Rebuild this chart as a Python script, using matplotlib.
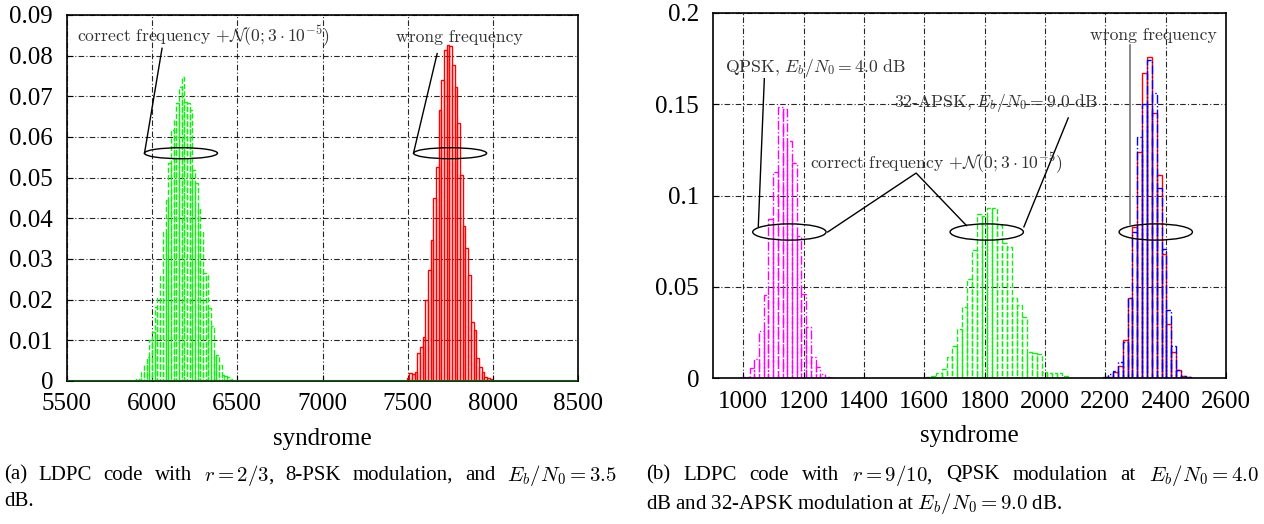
import numpy as np
import matplotlib
matplotlib.use("Agg")
import matplotlib.pyplot as plt
from matplotlib.patches import Ellipse

plt.rcParams['font.family'] = ['Liberation Serif', 'DejaVu Serif']
plt.rcParams['mathtext.fontset'] = 'cm'

# ---- (a) 8-PSK, r = 2/3 ----
a_green_start, a_green_width = 5890, 15.7
a_green = [0.0002, 0.0004, 0.0007, 0.0023, 0.0039, 0.0060, 0.0101, 0.0121, 0.0183, 0.0203,
           0.0258, 0.0367, 0.0445, 0.0535, 0.0617, 0.0642, 0.0683, 0.0724, 0.0748, 0.0687,
           0.0683, 0.0666, 0.0519, 0.0486, 0.0425, 0.0367, 0.0265, 0.0261, 0.0179, 0.0134,
           0.0064, 0.0064, 0.0039, 0.0015, 0.0012, 0.0010, 0.0004]
a_red_start, a_red_width = 7494, 15.7
a_red = [0.0007, 0.0019, 0.0017, 0.0023, 0.0068, 0.0084, 0.0109, 0.0199, 0.0273, 0.0347,
         0.0449, 0.0527, 0.0666, 0.0740, 0.0814, 0.0826, 0.0824, 0.0777, 0.0724, 0.0635,
         0.0507, 0.0382, 0.0327, 0.0261, 0.0146, 0.0125, 0.0056, 0.0035, 0.0023, 0.0009,
         0.0007, 0.0004]
a_xticks = [5500, 6000, 6500, 7000, 7500, 8000, 8500]
a_yticks = [0, 0.01, 0.02, 0.03, 0.04, 0.05, 0.06, 0.07, 0.08, 0.09]
a_ylabels = ['0', '0.01', '0.02', '0.03', '0.04', '0.05', '0.06', '0.07', '0.08', '0.09']

# ---- (b) QPSK / 32-APSK, r = 9/10 ----
b_mag_start, b_mag_width = 990, 15.6
b_magenta = [0.0004, 0.0007, 0.0053, 0.0102, 0.0258, 0.0455, 0.087, 0.1127, 0.1483, 0.1474,
             0.130, 0.1176, 0.078, 0.0458, 0.028, 0.0117, 0.0062, 0.0022, 0.0007, 0.0002]
b_grn_start, b_grn_width = 1607, 16.7
b_green = [0.0007, 0.0009, 0.0026, 0.005, 0.0117, 0.0177, 0.027, 0.039, 0.054, 0.070,
           0.090, 0.089, 0.093, 0.093, 0.084, 0.074, 0.072, 0.0437, 0.040, 0.0336,
           0.0144, 0.0135, 0.013, 0.0035, 0.003, 0.0026, 0.0026, 0.001]
b_wrong_start, b_wrong_width = 2193, 16.1
b_red = [0.0004, 0.0007, 0.0035, 0.0066, 0.021, 0.044, 0.083, 0.124, 0.167, 0.176,
         0.145, 0.111, 0.068, 0.0296, 0.0144, 0.0044, 0.0011, 0.0004]
b_blue = [0.0004, 0.002, 0.004, 0.009, 0.020, 0.044, 0.080, 0.132, 0.150, 0.174,
          0.156, 0.104, 0.0705, 0.037, 0.0177, 0.0044, 0.0011, 0.0004]
b_xticks = [1000, 1200, 1400, 1600, 1800, 2000, 2200, 2400, 2600]
b_yticks = [0, 0.05, 0.1, 0.15, 0.2]
b_ylabels = ['0', '0.05', '0.1', '0.15', '0.2']

cap_a1 = ['(a)', 'LDPC', 'code', 'with', '$r = 2/3$,', '8-PSK', 'modulation,', 'and', '$E_b/N_0 = 3.5$']
cap_a2 = 'dB.'
cap_b1 = ['(b)', 'LDPC', 'code', 'with', '$r = 9/10$,', 'QPSK', 'modulation', 'at', '$E_b/N_0 = 4.0$']
cap_b2 = 'dB and 32-APSK modulation at $E_b/N_0 = 9.0$ dB.'

grid_ls = (0, (5, 2, 1, 2))
ann_font = ['cmr10', 'DejaVu Serif']
ann_size = 12.7
cap_size = 15
green = '#11ee11'


def hist(ax, start, width, vals, color, ls, lw=1.0):
    edges = start + width * np.arange(len(vals))
    ax.bar(edges, vals, width=width, align='edge', fill=False,
           edgecolor=color, linestyle=ls, linewidth=lw)


def style(ax, xticks, yticks, ylabels, xlim, ylim):
    ax.set_xlim(*xlim)
    ax.set_ylim(*ylim)
    ax.set_xticks(xticks)
    ax.set_xticklabels([str(t) for t in xticks])
    ax.set_yticks(yticks)
    ax.set_yticklabels(ylabels)
    ax.tick_params(labelsize=18, direction='in', length=4, pad=10)
    ax.tick_params(axis='x', pad=9)
    ax.grid(True, color='0.15', linestyle=grid_ls, linewidth=0.8)
    ax.set_axisbelow(True)
    ax.set_xlabel('syndrome', fontsize=18, labelpad=9)
    for s in ax.spines.values():
        s.set_linewidth(1.2)


def justify(fig, words, x0, x1, y):
    r = fig.canvas.get_renderer()
    texts = [fig.text(0, y, w, fontsize=cap_size, ha='left', va='center') for w in words]
    widths = [t.get_window_extent(r).width for t in texts]
    W = fig.bbox.width
    gap = ((x1 - x0) * W - sum(widths)) / (len(words) - 1)
    x = x0 * W
    for t, w in zip(texts, widths):
        t.set_x(x / W)
        x += w + gap


fig = plt.figure(figsize=(12.64, 5.24), dpi=100)
ax1 = fig.add_axes([0.053, 0.273, 0.4043, 0.6985])
ax2 = fig.add_axes([0.5641, 0.2786, 0.4059, 0.6966])

# left
hist(ax1, a_green_start, a_green_width, a_green, green, '--')
hist(ax1, a_red_start, a_red_width, a_red, 'red', '-')
ax1.axhline(0, color='darkgreen', lw=1.5, zorder=3)
style(ax1, a_xticks, a_yticks, a_ylabels, (5500, 8500), (0, 0.09))

ax1.add_patch(Ellipse((6169, 0.056), 429, 0.0027, fill=False, ec='black', lw=1, zorder=5))
ax1.add_patch(Ellipse((7749, 0.056), 429, 0.0027, fill=False, ec='black', lw=1, zorder=5))
ax1.plot([5955, 6058], [0.056, 0.0818], color='black', lw=1)
ax1.plot([7534, 7673], [0.056, 0.0805], color='black', lw=1)
ax1.text(5560, 0.0846, r'correct frequency $+\mathcal{N}(0;3\cdot10^{-5})$',
         family=ann_font, fontsize=ann_size, va='center', ha='left', color='0.2')
ax1.text(7802, 0.0846, 'wrong frequency', family=ann_font, fontsize=ann_size,
         va='center', ha='center', color='0.2')

# right
hist(ax2, b_mag_start, b_mag_width, b_magenta, 'magenta', '-.')
hist(ax2, b_grn_start, b_grn_width, b_green, green, '--')
hist(ax2, b_wrong_start, b_wrong_width, b_red, 'red', '-')
hist(ax2, b_wrong_start, b_wrong_width, b_blue, 'blue', '-.')
style(ax2, b_xticks, b_yticks, b_ylabels, (900, 2600), (0, 0.2))

for cx in (1153, 1807, 2367):
    ax2.add_patch(Ellipse((cx, 0.080), 243, 0.0089, fill=False, ec='black', lw=1, zorder=5))
ax2.plot([1070, 1050], [0.164, 0.083], color='black', lw=1)
ax2.plot([2077, 1930], [0.1425, 0.0828], color='black', lw=1)
ax2.plot([1280, 1573, 1740], [0.080, 0.1123, 0.0835], color='black', lw=1)
ax2.plot([2283, 2283], [0.1825, 0.0845], color='0.45', lw=1.2)
ax2.text(1240, 0.170, r'QPSK, $E_b/N_0 = 4.0$ dB', family=ann_font, fontsize=ann_size,
         va='center', ha='center', color='0.2')
ax2.text(1837, 0.1507, r'32-APSK, $E_b/N_0 = 9.0$ dB', family=ann_font, fontsize=ann_size,
         va='center', ha='center', color='0.2')
ax2.text(1640, 0.1178, r'correct frequency $+\mathcal{N}(0;3\cdot10^{-5})$',
         family=ann_font, fontsize=ann_size, va='center', ha='center', color='0.2')
ax2.text(2360, 0.188, 'wrong frequency', family=ann_font, fontsize=ann_size,
         va='center', ha='center', color='0.2')

# captions
justify(fig, cap_a1, 0.003, 0.488, 1 - 475 / 524)
fig.text(0.003, 1 - 502 / 524, cap_a2, fontsize=cap_size, ha='left', va='center')
justify(fig, cap_b1, 0.511, 0.996, 1 - 475 / 524)
fig.text(0.511, 1 - 503 / 524, cap_b2, fontsize=cap_size, ha='left', va='center')

fig.savefig('out.png', dpi=100)
